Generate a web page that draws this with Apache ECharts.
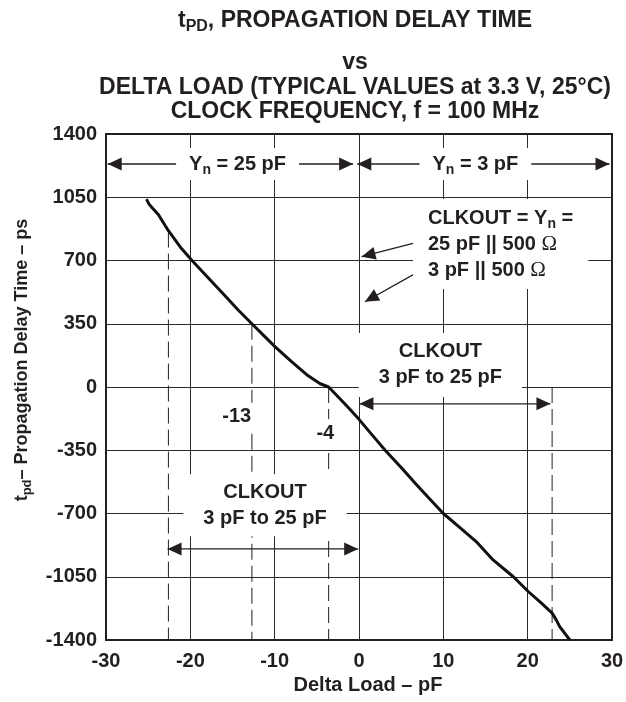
<!DOCTYPE html>
<html>
<head>
<meta charset="utf-8">
<title>tPD vs Delta Load</title>
<script src="https://cdn.jsdelivr.net/npm/echarts@6.0.0/dist/echarts.min.js"></script>
<style>
  html, body { margin: 0; padding: 0; background: #fff; }
  #chart { width: 626px; height: 702px; }
</style>
</head>
<body>
<div id="chart"></div>
<script>
// curve (typical, 3.3 V, 25 C, f = 100 MHz)
const deltaLoad = [-25.2, -24.9, -24.5, -23.8, -22.6, -21.2, -19.8, -18, -16, -14.3, -12.7, -11.2, -10, -8, -6.2, -4.6, -3.6, -2.6, -1.3, 0, 1.5, 3.1, 5, 6.8, 8.5, 10, 12, 14, 15.9, 18.3, 20.1, 21.6, 22.9, 23.4, 23.8, 25];
const delayPs = [1040, 1012, 990, 955, 865, 775, 700, 610, 510, 425, 350, 280, 225, 140, 68, 18, 0, -48, -112, -179, -262, -350, -445, -540, -625, -700, -780, -860, -957, -1050, -1133, -1195, -1251, -1290, -1326, -1400];

// axes
const xMin = -30, xMax = 30, xStep = 10;
const yMin = -1400, yMax = 1400, yStep = 350;

// dashed guides: where they stand and the delay they start from
const guideX = [-22.6, -12.7, -3.6, 22.9];
const guideTop = [860, 350, 0, 0];

// arrows: x1, y1, x2, y2, heads at both ends (1) or only at the end (0)
const arrowRows = [
  [-29.8, 1234, -0.7, 1234, 1],
  [-0.2, 1234, 29.7, 1234, 1],
  [0.05, -93, 22.7, -93, 1],
  [-22.7, -896, -0.1, -896, 1],
  [7.2, 804, 0.3, 721, 0],
  [7.4, 647, 0.7, 472, 0]
];

// notes drawn on the plot
const noteTexts = [
  '{t|Y}{s|n}{t| = 25 pF}',
  '{t|Y}{s|n}{t| = 3 pF}',
  '{t|CLKOUT = Y}{s|n}{t| =}\n{t|25 pF || 500 }{o|Ω}\n{t|3 pF || 500 }{o|Ω}',
  '{t|CLKOUT}\n{t|3 pF to 25 pF}',
  '{t|CLKOUT}\n{t|3 pF to 25 pF}',
  '{t|-13}',
  '{t|-4}'
];
const noteX = [-14.4, 13.8, 6.4, 9.65, -11.15, -14.5, -4.0];
const noteY = [1234, 1234, 1040, 122, -655, -164, -255];

const ink = '#231f20';
const sans = '"Liberation Sans", Arial, sans-serif';
const serif = '"Liberation Serif", "Times New Roman", serif';

const noteLayout = [
  { align: 'center', vAlign: 'middle', pad: [3, 13, 3, 13] },
  { align: 'center', vAlign: 'middle', pad: [3, 13, 3, 13] },
  { align: 'left', vAlign: 'top', pad: [6, 15, 6, 15] },
  { align: 'center', vAlign: 'middle', pad: [6, 20, 6, 20] },
  { align: 'center', vAlign: 'middle', pad: [5, 20, 5, 20] },
  { align: 'center', vAlign: 'middle', pad: [1, 2, 1, 2] },
  { align: 'center', vAlign: 'middle', pad: [1, 2, 1, 2] }
];

// zrender style for rich notes
const noteRich = {
  t: { fontSize: 20, fontWeight: 'bold', fontFamily: sans, fill: ink, lineHeight: 26 },
  s: { fontSize: 14, fontWeight: 'bold', fontFamily: sans, fill: ink, lineHeight: 12, verticalAlign: 'bottom' },
  o: { fontSize: 21, fontWeight: 'normal', fontFamily: serif, fill: ink, lineHeight: 26 }
};

function arrowHead(tip, ux, uy) {
  const L = 14, W = 6.5;
  const bx = tip[0] - ux * L, by = tip[1] - uy * L;
  return {
    type: 'polygon',
    shape: { points: [tip, [bx - uy * W, by + ux * W], [bx + uy * W, by - ux * W]] },
    style: { fill: ink }
  };
}

function renderArrow(params, api) {
  const a = api.coord([api.value(0), api.value(1)]);
  const b = api.coord([api.value(2), api.value(3)]);
  const dx = b[0] - a[0], dy = b[1] - a[1];
  const len = Math.hypot(dx, dy);
  const ux = dx / len, uy = dy / len;
  const children = [
    { type: 'line', shape: { x1: a[0], y1: a[1], x2: b[0], y2: b[1] }, style: { stroke: ink, lineWidth: 1.3 } },
    arrowHead(b, ux, uy)
  ];
  if (api.value(4) === 1) children.push(arrowHead(a, -ux, -uy));
  return { type: 'group', children: children };
}

function renderGuide(params, api) {
  const top = api.coord([api.value(0), api.value(1)]);
  const bottom = api.coord([api.value(0), yMin]);
  return {
    type: 'line',
    shape: { x1: top[0], y1: top[1], x2: bottom[0], y2: bottom[1] },
    style: { stroke: ink, lineWidth: 1, lineDash: [16, 6] }
  };
}

function renderNote(params, api) {
  const i = params.dataIndex;
  const p = api.coord([api.value(0), api.value(1)]);
  const s = noteLayout[i];
  return {
    type: 'text', x: p[0], y: p[1],
    style: {
      text: noteTexts[i], rich: noteRich,
      align: s.align, verticalAlign: s.vAlign,
      padding: s.pad, backgroundColor: '#fff',
      fill: ink, fontSize: 20, fontWeight: 'bold', fontFamily: sans, lineHeight: 26
    }
  };
}

const titleRich = {
  a: { color: ink, fontSize: 23, fontWeight: 'bold', fontFamily: sans, lineHeight: 28 },
  s: { color: ink, fontSize: 16, fontWeight: 'bold', fontFamily: sans, lineHeight: 12, verticalAlign: 'bottom' }
};
function titleLine(text, top) {
  return { text: text, left: 355, top: top, textAlign: 'center', padding: 0, textStyle: { rich: titleRich } };
}

const chart = echarts.init(document.getElementById('chart'), null, { renderer: 'canvas' });

const option = {
  animation: false,
  backgroundColor: '#fff',
  title: [
    titleLine('{a|t}{s|PD}{a|, PROPAGATION DELAY TIME}', 7),
    titleLine('{a|vs}', 49),
    titleLine('{a|DELTA LOAD (TYPICAL VALUES at 3.3 V, 25°C)}', 74),
    titleLine('{a|CLOCK FREQUENCY, f = 100 MHz}', 98)
  ],
  graphic: [{
    type: 'text', x: 22, y: 360, rotation: Math.PI / 2,
    style: {
      text: '{a|t}{s|pd}{a|– Propagation Delay Time – ps}',
      align: 'center', verticalAlign: 'middle',
      rich: {
        a: { fontSize: 18, fontWeight: 'bold', fontFamily: sans, fill: ink, lineHeight: 24 },
        s: { fontSize: 13, fontWeight: 'bold', fontFamily: sans, fill: ink, lineHeight: 10, verticalAlign: 'bottom' }
      }
    }
  }],
  grid: {
    left: 106, right: 14, top: 134, bottom: 62,
    containLabel: false, outerBoundsMode: 'none',
    show: true, borderColor: ink, borderWidth: 2, backgroundColor: 'transparent'
  },
  xAxis: {
    type: 'value', min: xMin, max: xMax, interval: xStep,
    name: 'Delta Load – pF', nameLocation: 'middle', nameGap: 34,
    nameTextStyle: { color: ink, fontSize: 20, fontWeight: 'bold', fontFamily: sans, padding: [0, 0, 0, 18] },
    axisLine: { show: false }, axisTick: { show: false },
    axisLabel: { color: ink, fontSize: 20, fontWeight: 'bold', fontFamily: sans, margin: 11, formatter: (v) => String(v) },
    splitLine: { show: true, showMinLine: false, showMaxLine: false, lineStyle: { color: '#2a2a2a', width: 1 } }
  },
  yAxis: {
    type: 'value', min: yMin, max: yMax, interval: yStep,
    axisLine: { show: false }, axisTick: { show: false },
    axisLabel: { color: ink, fontSize: 20, fontWeight: 'bold', fontFamily: sans, margin: 9, formatter: (v) => String(v) },
    splitLine: { show: true, showMinLine: false, showMaxLine: false, lineStyle: { color: '#2a2a2a', width: 1 } }
  },
  series: [
    {
      name: 'guides', type: 'custom', silent: true, z: 2,
      renderItem: renderGuide,
      encode: { x: 0, y: 1 },
      data: guideX.map((x, i) => [x, guideTop[i]])
    },
    {
      name: 'tpd', type: 'line', silent: true, z: 3,
      showSymbol: false, symbol: 'none',
      lineStyle: { color: '#111', width: 3 },
      data: deltaLoad.map((x, i) => [x, delayPs[i]])
    },
    {
      name: 'arrows', type: 'custom', silent: true, z: 4,
      renderItem: renderArrow,
      encode: { x: [0, 2], y: [1, 3] },
      data: arrowRows
    },
    {
      name: 'notes', type: 'custom', silent: true, z: 5,
      renderItem: renderNote,
      encode: { x: 0, y: 1 },
      data: noteX.map((x, i) => [x, noteY[i]])
    }
  ]
};

chart.setOption(option);
</script>
</body>
</html>
